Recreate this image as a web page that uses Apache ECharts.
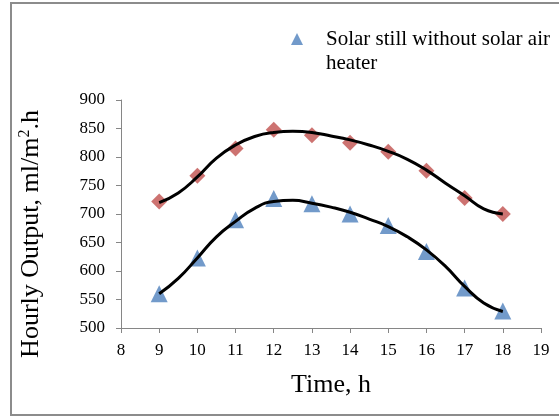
<!DOCTYPE html>
<html><head><meta charset="utf-8">
<script src="https://cdn.jsdelivr.net/npm/echarts@6/dist/echarts.min.js"></script>
<style>html,body{margin:0;padding:0;background:#fff}#c{width:559px;height:417px}</style>
</head><body><div id="c"></div>
<script>
const hours = [9, 10, 11, 12, 13, 14, 15, 16, 17, 18];
const withHeater = [722, 767, 815, 848, 838, 825, 809, 776, 728, 700];
const withoutHeater = [560, 623, 690, 727, 718, 700, 680, 634, 570, 530];
const trendHours = [9, 9.5, 10, 10.5, 11, 11.5, 12, 12.5, 13, 13.5, 14, 14.5, 15, 15.5, 16, 16.5, 17, 17.5, 18];
const trendWith = [720, 737, 765, 798, 821, 836, 843, 845, 843, 837, 830, 821, 810, 796, 777, 754, 732, 709, 700];
const trendWithout = [560, 587, 623, 660, 687, 710, 722, 724, 719, 712, 703, 691, 678, 660, 637, 608, 573, 544, 529];
const legendLabel = 'Solar still without solar air heater';

const pair = (xs, ys) => xs.map((x, i) => [x, ys[i]]);
const font = '"Liberation Serif", "Times New Roman", serif';
const axisGray = '#868686';

const chart = echarts.init(document.getElementById('c'), null, {renderer: 'canvas'});
chart.setOption({
  animation: false,
  backgroundColor: '#fff',
  textStyle: {fontFamily: font, color: '#000'},
  graphic: [{
    type: 'rect', shape: {x: 11, y: 3, width: 600, height: 412},
    style: {fill: 'none', stroke: '#8c8c8c', lineWidth: 2}, silent: true, z: -1
  }],
  grid: {left: 121, right: 18, top: 100, bottom: 89, containLabel: false},
  legend: {
    data: [{name: legendLabel, icon: 'triangle'}],
    left: 291, top: 3, padding: 0,
    itemWidth: 12, itemHeight: 12, itemGap: 0,
    formatter: () => ' \nSolar still without solar air\nheater',
    textStyle: {fontFamily: font, fontSize: 21, color: '#000', lineHeight: 24, padding: [0, 0, 0, 18]}
  },
  xAxis: {
    type: 'value', min: 8, max: 19, interval: 1,
    name: 'Time, h', nameLocation: 'middle', nameGap: 44,
    nameTextStyle: {fontFamily: font, fontSize: 26, color: '#000'},
    axisLine: {show: true, lineStyle: {color: axisGray, width: 1}},
    axisTick: {show: true, inside: false, length: 5, lineStyle: {color: axisGray}},
    axisLabel: {fontFamily: font, fontSize: 17, color: '#000', margin: 14},
    splitLine: {show: false}
  },
  yAxis: {
    type: 'value', min: 500, max: 900, interval: 50,
    name: 'Hourly Output, ml/m{sup|2}.h', nameLocation: 'middle', nameGap: 76, nameRotate: 90,
    nameTextStyle: {fontFamily: font, fontSize: 26, color: '#000', padding: [0, 40, 0, 0],
      rich: {sup: {fontFamily: font, fontSize: 16, color: '#000', padding: [0, 0, 12, 0]}}},
    axisLine: {show: true, lineStyle: {color: axisGray, width: 1}},
    axisTick: {show: true, inside: false, length: 5, lineStyle: {color: axisGray}},
    axisLabel: {fontFamily: font, fontSize: 17, color: '#000', margin: 16},
    splitLine: {show: false}
  },
  series: [
    {name: 'trend-with', type: 'line', data: pair(trendHours, trendWith), smooth: 0.5, showSymbol: false,
      lineStyle: {color: '#000', width: 3}, z: 3},
    {name: 'trend-without', type: 'line', data: pair(trendHours, trendWithout), smooth: 0.5, showSymbol: false,
      lineStyle: {color: '#000', width: 3}, z: 3},
    {name: 'Solar still with solar air heater', type: 'scatter', data: pair(hours, withHeater),
      symbol: 'diamond', symbolSize: 16, itemStyle: {color: '#C0504D'}, z: 2},
    {name: legendLabel, type: 'scatter', data: pair(hours, withoutHeater),
      symbol: 'triangle', symbolSize: 17, itemStyle: {color: '#4F81BD'}, z: 2}
  ]
});
</script></body></html>
